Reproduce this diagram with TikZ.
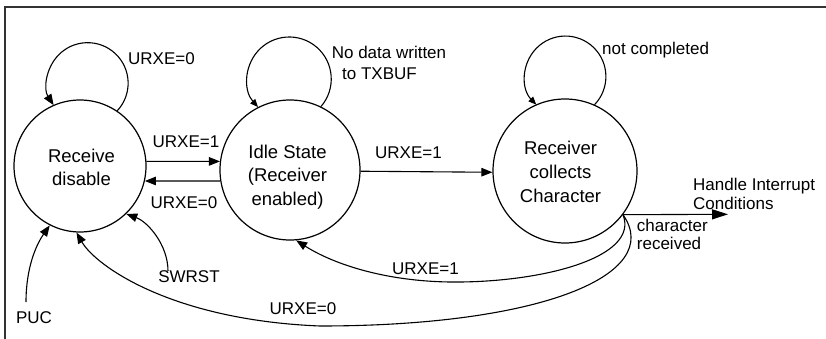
\documentclass[tikz,border=0pt]{standalone}
\usepackage{fontspec}
\setmainfont{Liberation Sans}
\usetikzlibrary{arrows.meta}
\begin{document}
\begin{tikzpicture}[x=1pt,y=1pt,
  state/.style={circle,draw,line width=1.2pt,inner sep=0pt},
  lbl/.style={inner sep=0pt,anchor=base,font=\fontsize{17}{20}\selectfont},
  lblw/.style={lbl,anchor=base west},
  stxt/.style={inner sep=0pt,anchor=base},
  conn/.style={line width=1.1pt},
  arr/.style={conn,-{Triangle[length=11pt,width=8.5pt]}},
  sarr/.style={conn,-{Triangle[length=8pt,width=6.5pt]}},
  harr/.style={conn,-{Triangle[length=16pt,width=10pt]}},
  frame/.style={line width=2pt,black!80}
]
\useasboundingbox (0,0) rectangle (826,-339);
\draw[frame] (4.5,-339) -- (4.5,-7) -- (826,-7);

% states
\node[state,minimum size=132pt] (c1) at (80,-166) {};
\node[state,minimum size=140pt] (c2) at (290,-170) {};
\node[state,minimum size=144pt] (c3) at (565,-171) {};

\node[stxt,font=\fontsize{18.5}{22}\selectfont] (c1t) at (81.5,-185)
  {\begin{tabular}[b]{@{}c@{}}Receive\\disable\end{tabular}};
\node[stxt,font=\fontsize{18.5}{23.5}\selectfont] (c2t) at (287.5,-205)
  {\begin{tabular}[b]{@{}c@{}}Idle State\\(Receiver\\enabled)\end{tabular}};
\node[stxt,font=\fontsize{18.5}{24.3}\selectfont] (c3t) at (560.5,-202.7)
  {\begin{tabular}[b]{@{}c@{}}Receiver\\collects\\Character\end{tabular}};

% self loops
\draw[arr] (c1.56) arc[start angle=-43,end angle=213,radius=40.5pt];
\draw[sarr] (c2.64) arc[start angle=-41,end angle=222,radius=42pt];
\draw[sarr] (c3.66) arc[start angle=-44,end angle=224,radius=40.5pt];
\node[lbl] (l1) at (161.5,-65) {URXE=0};
\node[lbl] (l2a) at (389,-59) {No data written};
\node[lbl] (l2b) at (379.5,-80) {to TXBUF};
\node[lblw] (l3) at (602,-55) {not completed};

% straight transitions
\draw[arr] (c1.4) -- (c2.173);
\node[lbl] (l12) at (186,-148) {URXE=1};
\draw[arr] (c2.189) -- (c1.-13);
\node[lbl] (l21) at (184,-208) {URXE=0};
\draw[arr] (c2.-1) -- (c3.181);
\node[lbl] (l23) at (408.5,-159) {URXE=1};

% handle interrupt
\coordinate (hic) at (728,-214.3);
\draw[harr] (c3.-37) -- (hic);
\node[lblw] (h1) at (693,-190.5) {Handle Interrupt};
\node[lblw] (h2) at (693,-209.5) {Conditions};
\node[lblw] (cr1) at (636.7,-231.7) {character};
\node[lblw] (cr2) at (636.7,-249.3) {received};

% return curves
\draw[arr] (c3.-37) .. controls (640,-258) and (540,-283) .. (450,-282)
  .. controls (380,-281) and (330,-262) .. (c2.-85);
\node[lbl] (l32) at (425.5,-274) {URXE=1};
\draw[arr] (c3.-37) .. controls (665,-275) and (540,-326) .. (320,-326)
  .. controls (170,-320) and (95,-265) .. (c1.-93);
\node[lbl] (l31) at (303,-314) {URXE=0};

% resets
\coordinate (pucs) at (26,-302);
\draw[arr] (pucs) .. controls (26,-268) and (36,-245) .. (c1.-117);
\node[lbl] (puc) at (34,-323) {PUC};
\coordinate (sws) at (168,-271);
\draw[arr] (sws) .. controls (168,-245) and (148,-222) .. (c1.-46);
\node[lbl] (swrst) at (189,-282.7) {SWRST};
\end{tikzpicture}
\end{document}
